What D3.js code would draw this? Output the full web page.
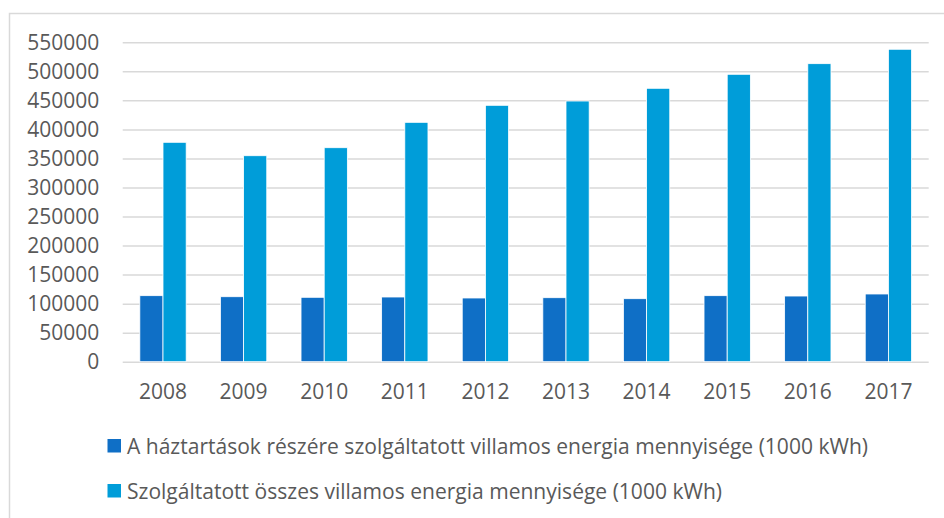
<!DOCTYPE html>
<html>
<head>
<meta charset="utf-8">
<script src="https://cdn.jsdelivr.net/npm/d3@7"></script>
<style>
  html, body { margin: 0; padding: 0; background: #fff; }
  svg { display: block; }
  text { font-family: "Open Sans", sans-serif; fill: #595959; }
</style>
</head>
<body>
<svg id="chart" width="944" height="518"></svg>
<script>
const years = ["2008","2009","2010","2011","2012","2013","2014","2015","2016","2017"];
const households = [113700, 111900, 110900, 111400, 109700, 110200, 108500, 113700, 113100, 116600];
const total = [377800, 354700, 368500, 412200, 441500, 448900, 470800, 494900, 513200, 538000];
const seriesNames = [
  "A háztartások részére szolgáltatott villamos energia mennyisége (1000 kWh)",
  "Szolgáltatott összes villamos energia mennyisége (1000 kWh)"
];
const seriesColors = ["#0f6fc6", "#009dd9"];
const yTicks = [0, 50000, 100000, 150000, 200000, 250000, 300000, 350000, 400000, 450000, 500000, 550000];

const svg = d3.select("#chart");

// outer chart border
svg.append("rect")
  .attr("x", 9.5).attr("y", 13.5)
  .attr("width", 960).attr("height", 560)
  .attr("fill", "none").attr("stroke", "#d9d9d9").attr("stroke-width", 1.5);

const plot = { left: 122.7, right: 928.7, top: 42.3, bottom: 361.7 };

const y = d3.scaleLinear().domain([0, 550000]).range([plot.bottom, plot.top]);
const x0 = d3.scaleBand().domain(years).range([plot.left, plot.right])
  .paddingInner(0.425).paddingOuter(0.2125);
const x1 = d3.scaleBand().domain([0, 1]).range([0, x0.bandwidth()]);

// gridlines + y labels
const yAxis = d3.axisLeft(y).tickValues(yTicks).tickFormat(d3.format("d"))
  .tickSize(-(plot.right - plot.left)).tickPadding(23.4);
const gy = svg.append("g").attr("transform", `translate(${plot.left},0)`).call(yAxis);
gy.select(".domain").remove();
gy.selectAll(".tick line").attr("stroke", "#d9d9d9").attr("stroke-width", 1.5);
gy.selectAll(".tick text").attr("font-size", 21).attr("fill", "#595959")
  .style("font-family", "'Open Sans', sans-serif");

// bars
const data = years.map((yr, i) => ({ yr, vals: [households[i], total[i]] }));
const groups = svg.append("g").selectAll("g").data(data).join("g")
  .attr("transform", d => `translate(${x0(d.yr)},0)`);
groups.selectAll("rect").data(d => d.vals.map((v, k) => ({ v, k }))).join("rect")
  .attr("x", d => x1(d.k))
  .attr("width", x1.bandwidth())
  .attr("y", d => y(d.v))
  .attr("height", d => y(0) - y(d.v))
  .attr("fill", d => seriesColors[d.k])
  .attr("stroke", "#ffffff").attr("stroke-width", 0.8);

// x axis labels
const xAxis = d3.axisBottom(x0).tickSize(0).tickPadding(22);
const gx = svg.append("g").attr("transform", `translate(0,${plot.bottom})`).call(xAxis);
gx.select(".domain").remove();
gx.selectAll(".tick text").attr("font-size", 21).attr("fill", "#595959")
  .style("font-family", "'Open Sans', sans-serif");

// legend
const legendY = [446, 491];
const legendTargetW = [741, 595];
seriesNames.forEach((name, i) => {
  const g = svg.append("g");
  g.append("rect").attr("x", 107.5).attr("y", legendY[i] - 7).attr("width", 13.5).attr("height", 13.5)
    .attr("fill", seriesColors[i]);
  g.append("text").attr("x", 127).attr("y", legendY[i])
    .attr("dominant-baseline", "central").attr("font-size", 21).text(name)
    .attr("textLength", legendTargetW[i]).attr("lengthAdjust", "spacingAndGlyphs");
});
</script>
</body>
</html>
